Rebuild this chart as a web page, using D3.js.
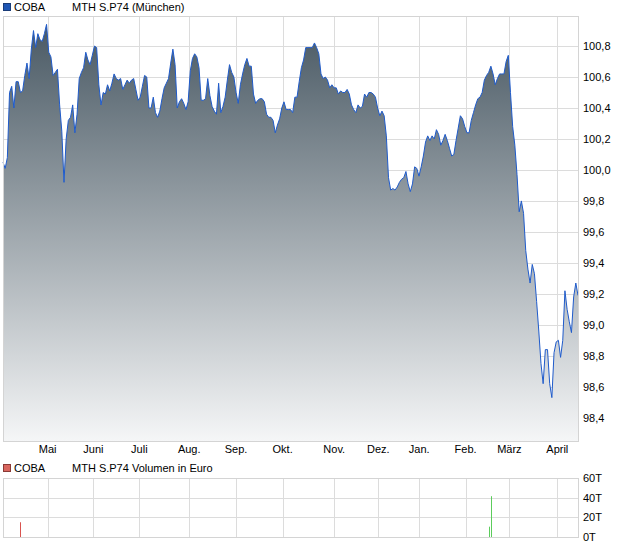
<!DOCTYPE html>
<meta charset="utf-8">
<style>
body{ margin:0; background:#fff; }
text{ font: 11px "Liberation Sans", Arial, sans-serif; fill:#000; }
.grid line{ stroke:#dcdcdc; shape-rendering:crispEdges; }
.frame{ fill:none; stroke:#d4d4d4; shape-rendering:crispEdges; }
</style>
<svg class="chart" width="620" height="546"></svg>
<script src="https://cdnjs.cloudflare.com/ajax/libs/d3/7.8.5/d3.min.js"></script>
<script>
// daily closing prices (one per trading day)
var prices = [
 100.05,100.01,100.08,100.50,100.54,100.40,100.57,100.57,100.50,100.51,
 100.61,100.69,100.59,100.78,100.90,100.79,100.88,100.84,100.83,100.88,
 100.94,100.76,100.73,100.61,100.63,100.65,100.42,100.25,99.92,100.20,
 100.32,100.34,100.42,100.24,100.36,100.59,100.63,100.66,100.76,100.71,
 100.68,100.74,100.80,100.79,100.55,100.42,100.50,100.49,100.55,100.51,
 100.56,100.62,100.59,100.58,100.59,100.52,100.55,100.58,100.56,100.58,
 100.59,100.52,100.45,100.47,100.54,100.61,100.60,100.40,100.40,100.47,
 100.37,100.34,100.38,100.46,100.53,100.56,100.59,100.69,100.78,100.68,
 100.40,100.44,100.46,100.43,100.39,100.44,100.64,100.72,100.75,100.73,
 100.66,100.45,100.45,100.46,100.59,100.48,100.41,100.38,100.36,100.56,
 100.37,100.41,100.47,100.58,100.68,100.63,100.60,100.50,100.43,100.55,
 100.62,100.68,100.72,100.67,100.67,100.49,100.43,100.45,100.46,100.46,
 100.44,100.36,100.34,100.34,100.32,100.24,100.29,100.33,100.40,100.44,
 100.39,100.39,100.39,100.37,100.47,100.47,100.57,100.66,100.71,100.79,
 100.79,100.79,100.79,100.82,100.79,100.75,100.62,100.59,100.60,100.58,
 100.53,100.55,100.53,100.53,100.49,100.51,100.50,100.50,100.52,100.49,
 100.42,100.39,100.37,100.42,100.40,100.41,100.49,100.47,100.50,100.50,
 100.49,100.47,100.40,100.35,100.38,100.35,100.22,99.95,99.87,99.88,
 99.87,99.89,99.92,99.94,99.95,99.99,99.91,99.86,99.91,100.02,
 100.01,99.96,100.02,100.09,100.18,100.22,100.19,100.22,100.20,100.26,
 100.23,100.16,100.19,100.23,100.19,100.14,100.09,100.10,100.19,100.27,
 100.35,100.33,100.28,100.24,100.24,100.32,100.37,100.42,100.46,100.47,
 100.50,100.58,100.61,100.63,100.67,100.62,100.55,100.59,100.62,100.62,
 100.62,100.70,100.74,100.50,100.28,100.16,99.97,99.73,99.80,99.72,
 99.48,99.36,99.27,99.39,99.33,99.15,98.96,98.75,98.62,98.84,
 98.84,98.62,98.53,98.82,98.89,98.90,98.79,98.90,99.22,99.10,
 99.02,98.95,99.18,99.27,99.19
];

var months   = ["Mai","Juni","Juli","Aug.","Sep.","Okt.","Nov.","Dez.","Jan.","Feb.","März","April"];
var monthIdx = [20.5, 41.5, 62.6, 85.5, 107, 128.4, 152.1, 172.3, 191.1, 212.4, 232.5, 254.5];

var yTicks = [98.4,98.6,98.8,99.0,99.2,99.4,99.6,99.8,100.0,100.2,100.4,100.6,100.8];

// volume in thousand euro
var volIdx   = [8, 223, 224];
var volumes  = [15, 10.5, 41.5];
var volTicks = [0, 20, 40, 60];

var left = 3, right = 578,
	top1 = 16, bottom1 = 441,
	top2 = 478, bottom2 = 537;

var svg = d3.select(".chart");

var de = d3.formatLocale({decimal: ",", thousands: ".", grouping: [3], currency: ["", "€"]});
var fmt = de.format(".1f");

var x = d3.scaleLinear()
	.domain([0, prices.length - 1])
	.range([left, right]);

var y = d3.scaleLinear()
	.domain([98.25, 100.994])
	.range([bottom1, top1]);

var yv = d3.scaleLinear()
	.domain([0, 60])
	.range([bottom2, top2]);

var defs = svg.append("defs");
var grad = defs.append("linearGradient")
	.attr("id", "areaFill")
	.attr("gradientUnits", "userSpaceOnUse")
	.attr("x1", 0).attr("y1", top1)
	.attr("x2", 0).attr("y2", bottom1);
grad.append("stop").attr("offset", 0).attr("stop-color", "#465661");
grad.append("stop").attr("offset", 1).attr("stop-color", "#f5f6f7");

// legend top
svg.append("rect").attr("x", 3.5).attr("y", 3.5).attr("width", 7).attr("height", 7)
	.attr("fill", "#1f56b4").attr("stroke", "#1a3c78");
svg.append("text").attr("x", 14).attr("y", 11).text("COBA");
svg.append("text").attr("x", 72).attr("y", 11).text("MTH S.P74 (München)");

// main grid
var grid = svg.append("g").attr("class", "grid");
grid.selectAll(".h").data(yTicks).enter().append("line")
	.attr("x1", left).attr("x2", right)
	.attr("y1", function(d){ return Math.round(y(d)) + 0.5; })
	.attr("y2", function(d){ return Math.round(y(d)) + 0.5; });
grid.selectAll(".v").data(monthIdx).enter().append("line")
	.attr("y1", top1).attr("y2", bottom1)
	.attr("x1", function(d){ return Math.round(x(d)) + 0.5; })
	.attr("x2", function(d){ return Math.round(x(d)) + 0.5; });

var area = d3.area()
	.x(function(d, i){ return x(i); })
	.y0(bottom1)
	.y1(function(d){ return y(d); });

var line = d3.line()
	.x(function(d, i){ return x(i); })
	.y(function(d){ return y(d); });

svg.append("path").datum(prices)
	.attr("d", area)
	.attr("fill", "url(#areaFill)");

svg.append("path").datum(prices)
	.attr("d", line)
	.attr("fill", "none")
	.attr("stroke", "#1f5bcb")
	.attr("stroke-width", 1);

svg.append("rect").attr("class", "frame")
	.attr("x", left + 0.5).attr("y", top1 + 0.5)
	.attr("width", right - left).attr("height", bottom1 - top1);

// right axis labels
svg.selectAll(".ylab").data(yTicks).enter().append("text")
	.attr("x", right + 5)
	.attr("y", function(d){ return y(d); })
	.attr("dy", "0.35em")
	.text(function(d){ return fmt(d); });

// month labels
svg.selectAll(".mlab").data(months).enter().append("text")
	.attr("x", function(d, i){ return x(monthIdx[i]); })
	.attr("y", 453)
	.attr("text-anchor", "middle")
	.text(function(d){ return d; });

// legend bottom
svg.append("rect").attr("x", 3.5).attr("y", 464.5).attr("width", 7).attr("height", 7)
	.attr("fill", "#d9665f").attr("stroke", "#8a3a36");
svg.append("text").attr("x", 14).attr("y", 472).text("COBA");
svg.append("text").attr("x", 72).attr("y", 472).text("MTH S.P74 Volumen in Euro");

// volume grid
var grid2 = svg.append("g").attr("class", "grid");
grid2.selectAll(".h").data(volTicks).enter().append("line")
	.attr("x1", left).attr("x2", right)
	.attr("y1", function(d){ return Math.round(yv(d)) + 0.5; })
	.attr("y2", function(d){ return Math.round(yv(d)) + 0.5; });
grid2.selectAll(".v").data(monthIdx).enter().append("line")
	.attr("y1", top2).attr("y2", bottom2)
	.attr("x1", function(d){ return Math.round(x(d)) + 0.5; })
	.attr("x2", function(d){ return Math.round(x(d)) + 0.5; });

svg.append("rect").attr("class", "frame")
	.attr("x", left + 0.5).attr("y", top2 + 0.5)
	.attr("width", right - left).attr("height", bottom2 - top2);

// volume bars, red on falling days, green on rising days
svg.selectAll(".vol").data(volumes).enter().append("rect")
	.attr("x", function(d, i){ return Math.round(x(volIdx[i])); })
	.attr("y", function(d){ return yv(d); })
	.attr("width", 1)
	.attr("height", function(d){ return yv(0) - yv(d); })
	.attr("fill", function(d, i){
		var k = volIdx[i];
		return prices[k] < prices[k - 1] ? "#d9534f" : "#5ccc5c";
	});

svg.selectAll(".vlab").data(volTicks).enter().append("text")
	.attr("x", right + 5)
	.attr("y", function(d){ return yv(d); })
	.attr("dy", "0.35em")
	.text(function(d){ return d + "T"; });
</script>
